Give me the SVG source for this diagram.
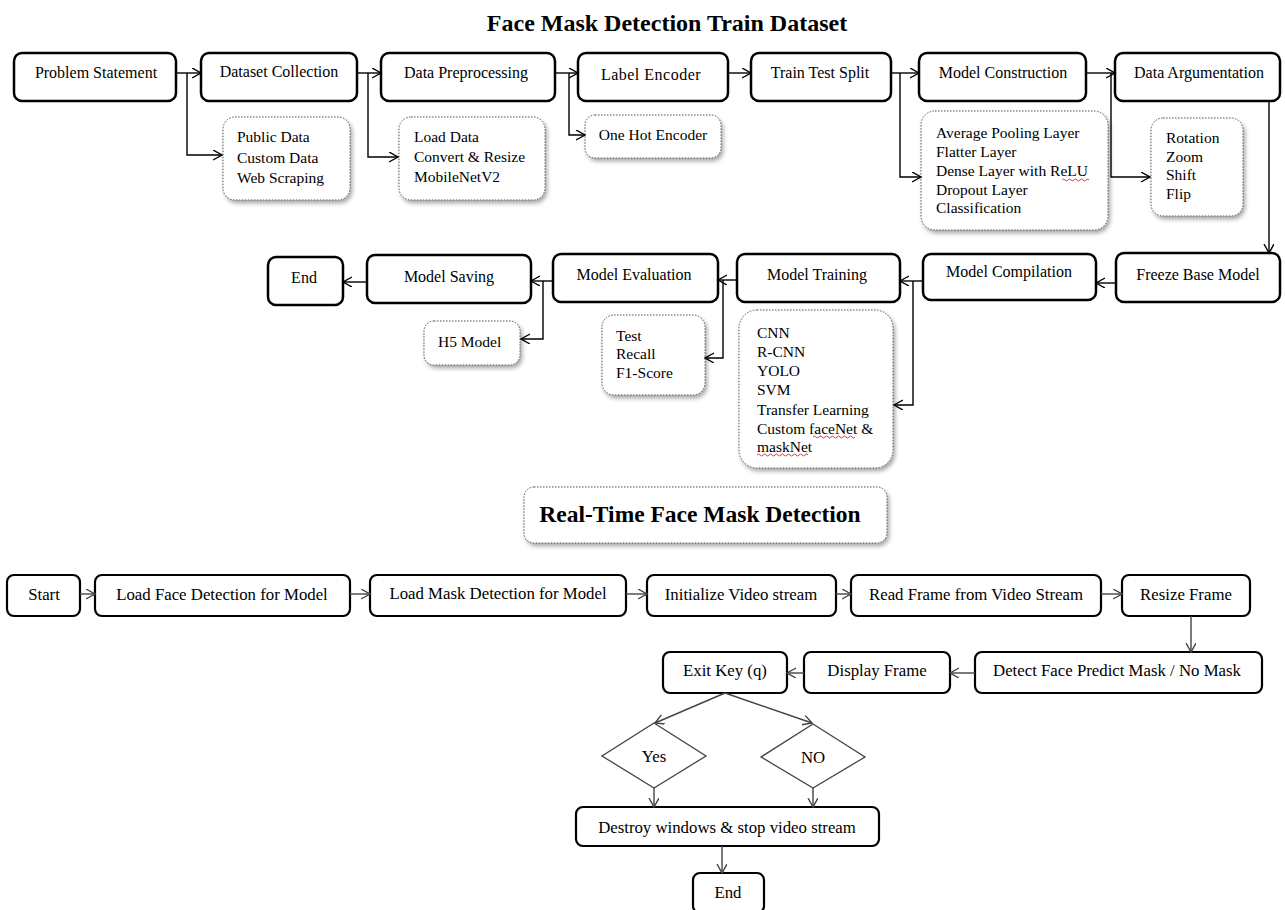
<svg xmlns="http://www.w3.org/2000/svg" width="1285" height="910" viewBox="0 0 1285 910">
<defs>
<marker id="arr" markerUnits="userSpaceOnUse" markerWidth="12" markerHeight="12" refX="9" refY="5" orient="auto">
<path d="M0,0 L9,5 L0,10" fill="none" stroke="#000" stroke-width="1.4"/>
</marker>
<marker id="arrg" markerUnits="userSpaceOnUse" markerWidth="12" markerHeight="12" refX="9" refY="5" orient="auto">
<path d="M0,0 L9,5 L0,10" fill="none" stroke="#444" stroke-width="1.4"/>
</marker>
<filter id="sh" x="-10%" y="-10%" width="130%" height="130%">
<feDropShadow dx="2" dy="3" stdDeviation="2" flood-color="#000" flood-opacity="0.35"/>
</filter>
</defs>
<style>
text{font-family:"Liberation Serif","Times New Roman",serif;fill:#000;}
.t{font-size:16px;text-anchor:middle;}
.b{font-size:16.8px;text-anchor:middle;}
.s{font-size:15.5px;}
.h{font-size:24px;font-weight:bold;text-anchor:middle;}
.h2{font-size:23.5px;font-weight:bold;text-anchor:middle;}
.box{fill:#fff;stroke:#000;stroke-width:2.5;}
.bx2{fill:#fff;stroke:#000;stroke-width:2.2;}
.sub{fill:#fff;stroke:#555;stroke-width:1;stroke-dasharray:1.5 1.5;filter:url(#sh);}
.c{fill:none;stroke:#000;stroke-width:1.4;marker-end:url(#arr);}
.cg{fill:none;stroke:#444;stroke-width:1.4;marker-end:url(#arrg);}
.sq{fill:none;stroke:#e00;stroke-width:0.8;}
</style>
<rect width="1285" height="910" fill="#fff"/>

<text class="h" x="667" y="31">Face Mask Detection Train Dataset</text>

<g id="problem-statement"><rect class="box" x="14" y="53" width="162" height="48" rx="8"/><text class="t" x="96" y="78">Problem Statement</text></g>
<g id="dataset-collection"><rect class="box" x="201" y="53" width="156" height="48" rx="8"/><text class="t" x="279" y="77">Dataset Collection</text></g>
<g id="data-preprocessing"><rect class="box" x="381" y="53" width="174" height="48" rx="8"/><text class="t" x="466" y="78">Data Preprocessing</text></g>
<g id="label-encoder"><rect class="box" x="578" y="53" width="150" height="48" rx="8"/><text class="t" x="651" y="80" style="letter-spacing:0.5px">Label Encoder</text></g>
<g id="train-test-split"><rect class="box" x="751" y="53" width="140" height="48" rx="8"/><text class="t" x="820" y="78">Train  Test Split</text></g>
<g id="model-construction"><rect class="box" x="919" y="53" width="167" height="48" rx="8"/><text class="t" x="1003" y="78">Model Construction</text></g>
<g id="data-argumentation"><rect class="box" x="1115" y="53" width="165" height="48" rx="8"/><text class="t" x="1199" y="78">Data Argumentation</text></g>

<g id="dataset-sources"><rect class="sub" x="223" y="117" width="127" height="83" rx="12"/>
<text class="s" x="237" y="142">Public Data</text><text class="s" x="237" y="163">Custom Data</text><text class="s" x="237" y="183">Web Scraping</text></g>
<g id="preprocessing-steps"><rect class="sub" x="399" y="117" width="146" height="83" rx="12"/>
<text class="s" x="414" y="142">Load Data</text><text class="s" x="414" y="162">Convert &amp; Resize</text><text class="s" x="414" y="182">MobileNetV2</text></g>
<g id="one-hot-encoder"><rect class="sub" x="585" y="115" width="136" height="43" rx="10"/>
<text class="s" x="653" y="140" text-anchor="middle">One Hot Encoder</text></g>
<g id="construction-layers"><rect class="sub" x="921" y="111" width="187" height="119" rx="14"/>
<text class="s" x="936" y="138">Average Pooling Layer</text><text class="s" x="936" y="157">Flatter Layer</text><text class="s" x="936" y="176">Dense Layer with ReLU</text><text class="s" x="936" y="195">Dropout Layer</text><text class="s" x="936" y="213">Classification</text>
<path class="sq" d="M1062,180 q1.5,-2 3,0 t3,0 t3,0 t3,0 t3,0 t3,0 t3,0 t3,0 t3,0"/></g>
<g id="augmentation-ops"><rect class="sub" x="1151" y="118" width="92" height="98" rx="12"/>
<text class="s" x="1166" y="143">Rotation</text><text class="s" x="1166" y="162">Zoom</text><text class="s" x="1166" y="180">Shift</text><text class="s" x="1166" y="199">Flip</text></g>

<g id="freeze-base-model"><rect class="box" x="1116" y="253" width="164" height="49" rx="8"/><text class="t" x="1198" y="280">Freeze Base Model</text></g>
<g id="model-compilation"><rect class="box" x="923" y="254" width="173" height="46" rx="8"/><text class="t" x="1009" y="277">Model Compilation</text></g>
<g id="model-training"><rect class="box" x="737" y="254" width="163" height="48" rx="8"/><text class="t" x="817" y="280">Model Training</text></g>
<g id="model-evaluation"><rect class="box" x="553" y="254" width="165" height="48" rx="8"/><text class="t" x="634" y="280">Model Evaluation</text></g>
<g id="model-saving"><rect class="box" x="367" y="255" width="164" height="48" rx="8"/><text class="t" x="449" y="282">Model Saving</text></g>
<g id="end-train"><rect class="box" x="268" y="257" width="75" height="48" rx="8"/><text class="t" x="304" y="283">End</text></g>

<g id="h5-model"><rect class="sub" x="424" y="321" width="96" height="44" rx="10"/><text class="s" x="438" y="347">H5 Model</text></g>
<g id="eval-metrics"><rect class="sub" x="602" y="315" width="103" height="80" rx="12"/>
<text class="s" x="616" y="341">Test</text><text class="s" x="616" y="359">Recall</text><text class="s" x="616" y="378">F1-Score</text></g>
<g id="training-models"><rect class="sub" x="739" y="310" width="154" height="158" rx="18"/>
<text class="s" x="757" y="338">CNN</text><text class="s" x="757" y="357">R-CNN</text><text class="s" x="757" y="376">YOLO</text><text class="s" x="757" y="395">SVM</text><text class="s" x="757" y="415">Transfer Learning</text><text class="s" x="757" y="434">Custom faceNet &amp;</text><text class="s" x="757" y="452">maskNet</text>
<path class="sq" d="M813,437 q1.5,-2 3,0 t3,0 t3,0 t3,0 t3,0 t3,0 t3,0 t3,0 t3,0 t3,0 t3,0 t3,0 t3,0 t3,0"/>
<path class="sq" d="M757,455 q1.5,-2 3,0 t3,0 t3,0 t3,0 t3,0 t3,0 t3,0 t3,0 t3,0 t3,0 t3,0 t3,0 t3,0 t3,0 t3,0 t3,0 t3,0"/></g>

<g id="realtime-title"><rect class="sub" x="524" y="487" width="363" height="56" rx="10"/><text class="h2" x="700" y="522">Real-Time Face Mask Detection</text></g>

<g id="start"><rect class="bx2" x="7" y="575" width="73" height="41" rx="7"/><text class="b" x="44" y="600">Start</text></g>
<g id="load-face"><rect class="bx2" x="95" y="575" width="255" height="41" rx="7"/><text class="b" x="222" y="600">Load Face Detection  for Model</text></g>
<g id="load-mask"><rect class="bx2" x="370" y="575" width="256" height="41" rx="7"/><text class="b" x="498" y="599">Load Mask Detection  for Model</text></g>
<g id="init-video"><rect class="bx2" x="647" y="575" width="189" height="41" rx="7"/><text class="b" x="741" y="600">Initialize  Video stream</text></g>
<g id="read-frame"><rect class="bx2" x="851" y="575" width="250" height="41" rx="7"/><text class="b" x="976" y="600">Read Frame from Video Stream</text></g>
<g id="resize-frame"><rect class="bx2" x="1122" y="575" width="128" height="41" rx="7"/><text class="b" x="1186" y="600">Resize Frame</text></g>
<g id="detect-face"><rect class="bx2" x="975" y="652" width="287" height="41" rx="7"/><text class="b" x="1117" y="676">Detect Face Predict Mask / No Mask</text></g>
<g id="display-frame"><rect class="bx2" x="804" y="652" width="146" height="41" rx="7"/><text class="b" x="877" y="676">Display Frame</text></g>
<g id="exit-key"><rect class="bx2" x="663" y="652" width="124" height="41" rx="7"/><text class="b" x="725" y="676">Exit Key (q)</text></g>
<g id="yes"><polygon points="654,723 706,756 654,788 602,756" fill="#fff" stroke="#444" stroke-width="1.3"/><text class="b" x="654" y="762">Yes</text></g>
<g id="no"><polygon points="813,724 865,757 813,788 761,757" fill="#fff" stroke="#444" stroke-width="1.3"/><text class="b" x="813" y="763">NO</text></g>
<g id="destroy"><rect class="bx2" x="576" y="807" width="303" height="39" rx="7"/><text class="b" x="727" y="833">Destroy windows &amp; stop video stream</text></g>
<g id="end-rt"><rect class="bx2" x="693" y="873" width="71" height="40" rx="7"/><text class="b" x="728" y="898">End</text></g>

<g id="connectors">
<path class="c" d="M176,73 H201"/>
<path class="c" d="M187,73 V155 H222"/>
<path class="c" d="M357,73 H381"/>
<path class="c" d="M368,73 V157 H398"/>
<path class="c" d="M555,73 H578"/>
<path class="c" d="M569,73 V135 H585"/>
<path class="c" d="M728,73 H751"/>
<path class="c" d="M891,73 H919"/>
<path class="c" d="M900,73 V177 H921"/>
<path class="c" d="M1086,73 H1115"/>
<path class="c" d="M1111,73 V177 H1150"/>
<path class="c" d="M1269,101 V253"/>
<path class="c" d="M1116,283 H1096"/>
<path class="c" d="M923,281 H900"/>
<path class="c" d="M913,281 V405 H894"/>
<path class="c" d="M737,280 H718"/>
<path class="c" d="M723,280 V358 H705"/>
<path class="c" d="M553,281 H531"/>
<path class="c" d="M543,281 V339 H521"/>
<path class="c" d="M367,282 H343"/>
<path class="cg" d="M80,594 H95"/>
<path class="cg" d="M350,594 H370"/>
<path class="cg" d="M626,594 H647"/>
<path class="cg" d="M836,594 H851"/>
<path class="cg" d="M1101,594 H1122"/>
<path class="cg" d="M1191,616 V652"/>
<path class="cg" d="M975,673 H950"/>
<path class="cg" d="M804,673 H787"/>
<path class="cg" d="M725,693 L655,723"/>
<path class="cg" d="M725,693 L812,723"/>
<path class="cg" d="M654,788 V807"/>
<path class="cg" d="M813,788 V807"/>
<path class="cg" d="M722,846 V873"/>
</g>
</svg>
